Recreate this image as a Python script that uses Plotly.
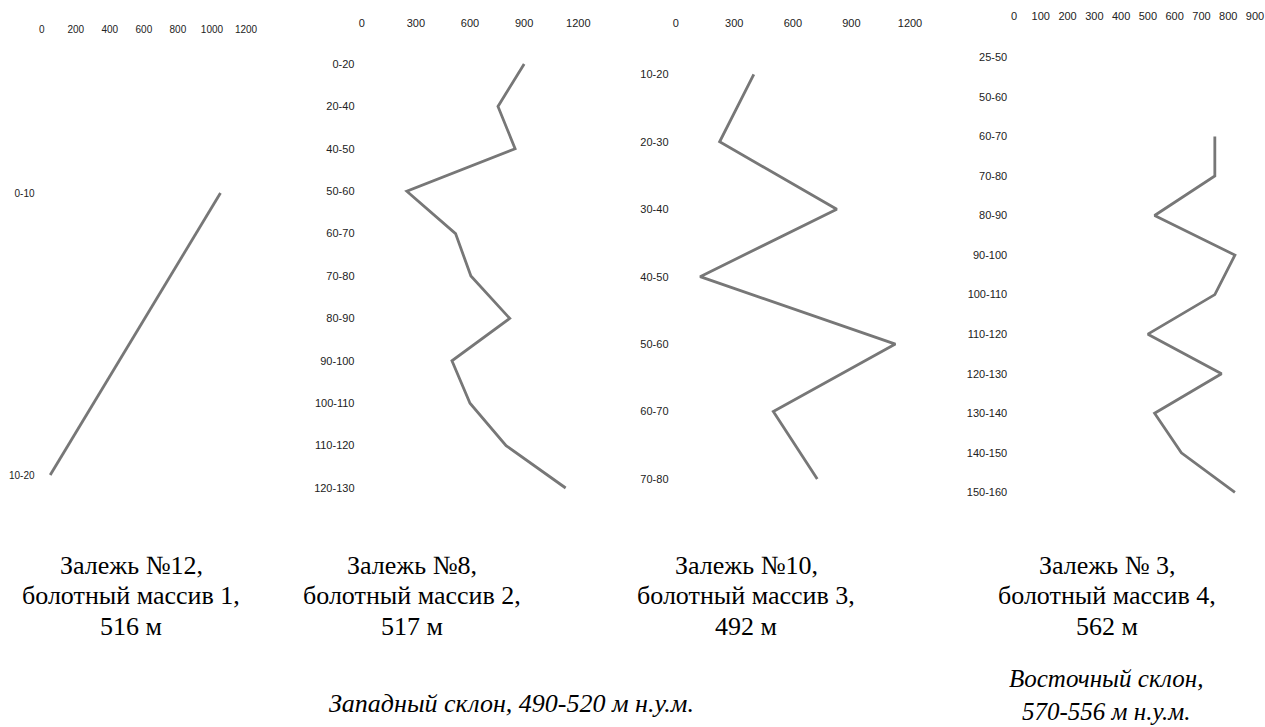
import plotly.graph_objects as go

W, H = 1265, 727

# ---- data -------------------------------------------------------------
cats1 = ["0-10", "10-20"]
vals1 = [1050, 50]
ticks1 = [0, 200, 400, 600, 800, 1000, 1200]

cats2 = ["0-20", "20-40", "40-50", "50-60", "60-70", "70-80", "80-90",
         "90-100", "100-110", "110-120", "120-130"]
vals2 = [900, 755, 850, 250, 520, 605, 820, 500, 600, 800, 1130]
ticks2 = [0, 300, 600, 900, 1200]

cats3 = ["10-20", "20-30", "30-40", "40-50", "50-60", "60-70", "70-80"]
vals3 = [400, 225, 825, 125, 1125, 500, 725]
ticks3 = [0, 300, 600, 900, 1200]

cats4 = ["25-50", "50-60", "60-70", "70-80", "80-90", "90-100", "100-110",
         "110-120", "120-130", "130-140", "140-150", "150-160"]
vals4 = [None, None, 750, 750, 525, 825, 750, 500, 775, 525, 625, 825]
ticks4 = [0, 100, 200, 300, 400, 500, 600, 700, 800, 900]

captions = [
    ["Залежь №12,", "болотный массив 1,", "516 м"],
    ["Залежь №8,", "болотный массив 2,", "517 м"],
    ["Залежь №10,", "болотный массив 3,", "492 м"],
    ["Залежь № 3,", "болотный массив 4,", "562 м"],
]
slope_west = ["Западный склон, 490-520 м н.у.м."]
slope_east = ["Восточный склон,", "570-556 м н.у.м."]

# ---- panel geometry (pixels) -------------------------------------------
panels = [
    dict(cats=cats1, vals=vals1, ticks=ticks1, x0=41.7, x1=246.0, xlab_y=29,
         ylab_r=34, y0=193, step=282, fs=10),
    dict(cats=cats2, vals=vals2, ticks=ticks2, x0=361.7, x1=578.3, xlab_y=23,
         ylab_r=354, y0=64, step=42.4, fs=11),
    dict(cats=cats3, vals=vals3, ticks=ticks3, x0=675.7, x1=910.0, xlab_y=23,
         ylab_r=668, y0=74.3, step=67.45, fs=11),
    dict(cats=cats4, vals=vals4, ticks=ticks4, x0=1014.0, x1=1255.0, xlab_y=16,
         ylab_r=1006.7, y0=57.3, step=39.55, fs=11),
]
caption_x = [131, 412, 746, 1107]
caption_y = [565, 595, 626]

TICK_FONT = "Liberation Sans, Arial, sans-serif"
SERIF = "Liberation Serif, Times New Roman, serif"
LINE_COLOR = "#777777"

fig = go.Figure()
layout = dict(
    width=W, height=H,
    margin=dict(l=0, r=0, t=0, b=0, pad=0, autoexpand=False),
    paper_bgcolor="white", plot_bgcolor="white",
    showlegend=False,
)

PAD = 8
for i, p in enumerate(panels, start=1):
    sfx = "" if i == 1 else str(i)
    n = len(p["cats"])
    top = p["y0"] - PAD
    bot = p["y0"] + (n - 1) * p["step"] + PAD
    fig.add_trace(go.Scatter(
        x=p["vals"], y=p["cats"], mode="lines",
        line=dict(color=LINE_COLOR, width=2.8),
        xaxis="x" + sfx, yaxis="y" + sfx, hoverinfo="skip",
    ))
    layout["xaxis" + sfx] = dict(
        domain=[p["x0"] / W, p["x1"] / W],
        range=[0, p["ticks"][-1]],
        tickvals=p["ticks"], side="top", automargin=False,
        anchor="free", position=1 - (p["xlab_y"] + 6) / H,
        showgrid=False, zeroline=False, showline=False, ticks="",
        tickfont=dict(family=TICK_FONT, size=p["fs"], color="#222222"),
    )
    layout["yaxis" + sfx] = dict(
        domain=[1 - bot / H, 1 - top / H],
        type="category", categoryorder="array", categoryarray=p["cats"],
        range=[n - 1 + PAD / p["step"], -PAD / p["step"]],
        anchor="free", position=(p["ylab_r"] + 0.5) / W, side="left",
        automargin=False,
        showgrid=False, zeroline=False, showline=False, ticks="",
        tickfont=dict(family=TICK_FONT, size=p["fs"], color="#222222"),
    )

annotations = []
for cx, lines in zip(caption_x, captions):
    for cy, txt in zip(caption_y, lines):
        annotations.append(dict(
            x=cx / W, y=1 - cy / H, xref="paper", yref="paper",
            text=txt, showarrow=False, xanchor="center", yanchor="middle",
            font=dict(family=SERIF, size=26, color="black"),
        ))
annotations.append(dict(
    x=511 / W, y=1 - 703 / H, xref="paper", yref="paper",
    text="<i>" + slope_west[0] + "</i>", showarrow=False,
    xanchor="center", yanchor="middle",
    font=dict(family=SERIF, size=26, color="black"),
))
annotations.append(dict(
    x=1106 / W, y=0, xref="paper", yref="paper",
    text="<i>" + "<br>".join(slope_east) + "</i>", showarrow=False,
    xanchor="center", yanchor="bottom",
    font=dict(family=SERIF, size=25, color="black"),
))
layout["annotations"] = annotations

fig.update_layout(**layout)
fig.write_html("out.html", config={"displayModeBar": False})
